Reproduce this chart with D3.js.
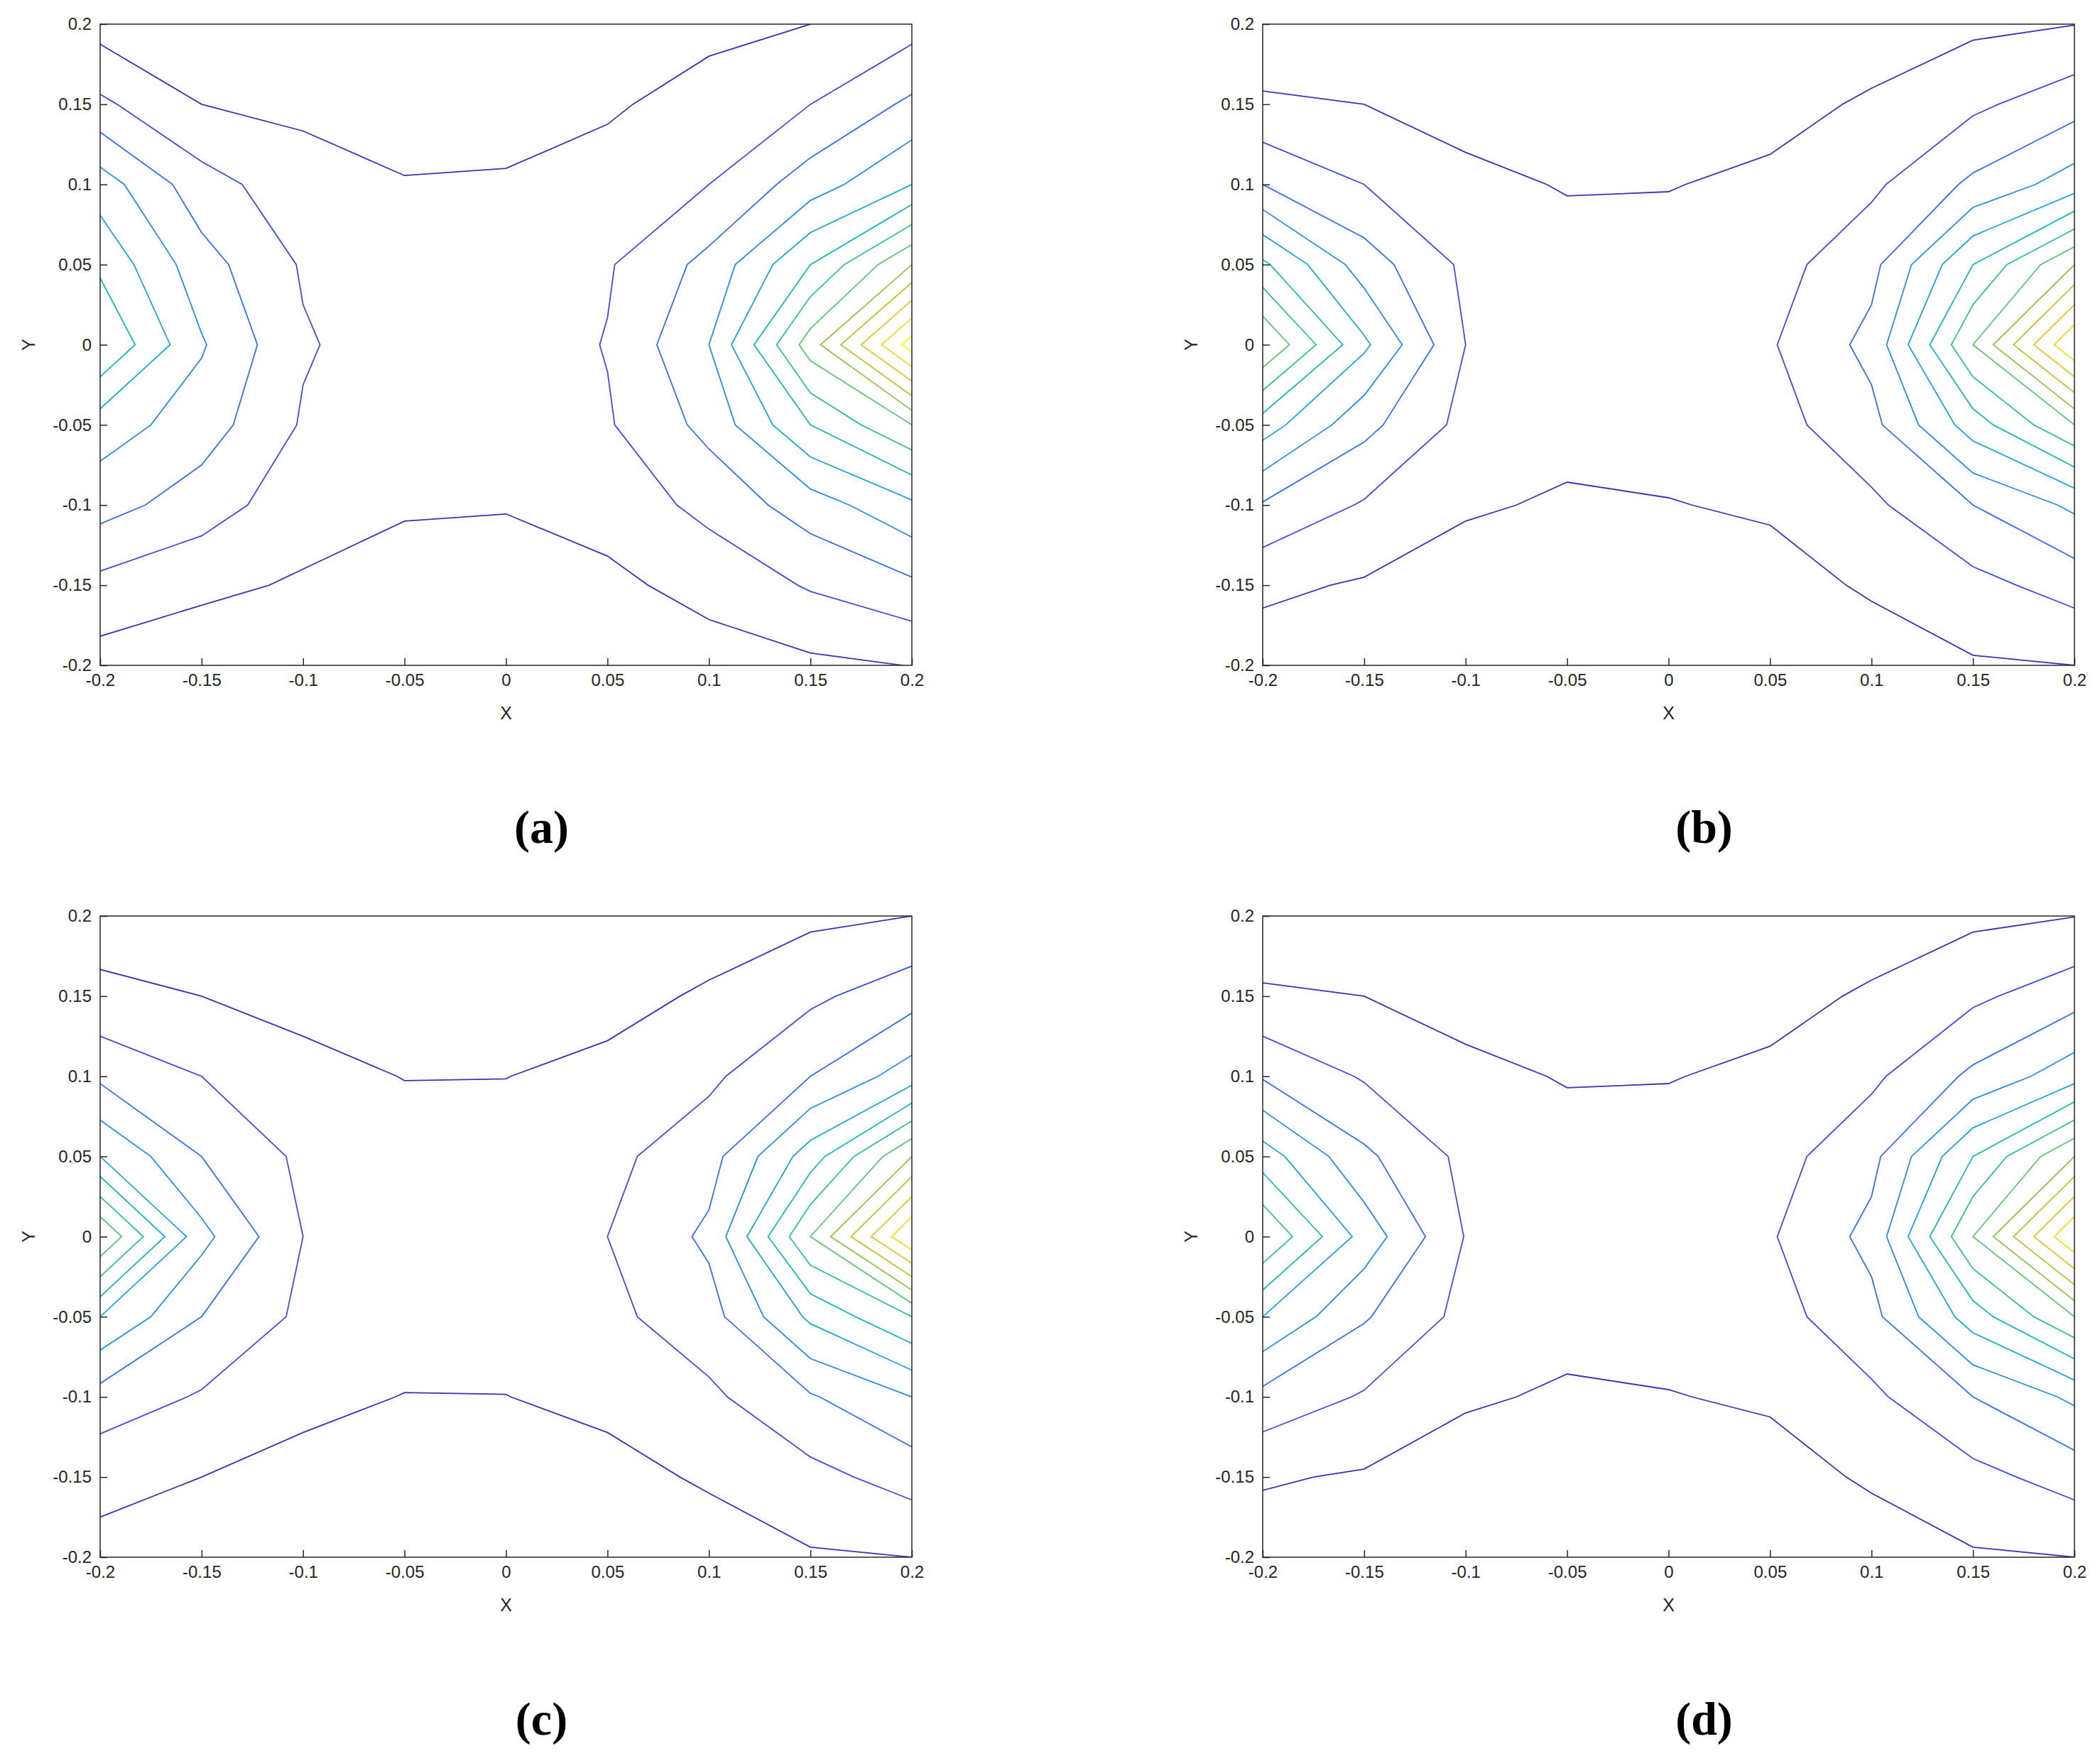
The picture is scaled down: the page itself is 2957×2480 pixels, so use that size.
<!DOCTYPE html>
<html lang="en">
<head>
<meta charset="UTF-8">
<title>Contours</title>
<style>
  body { margin: 0; background: #fff; }
  text { font-family: "Liberation Sans", Arial, sans-serif; }
</style>
</head>
<body>
<div id="chart"></div>
<script src="https://d3js.org/d3.v7.min.js"></script>
<script>
// grid coordinates (columns x, rows y from top)
const xs = [-0.2, -0.15, -0.1, -0.05, 0, 0.05, 0.1, 0.15, 0.2];
const ys = [0.2, 0.15, 0.1, 0.05, 0, -0.05, -0.1, -0.15, -0.2];
const ticks = [-0.2, -0.15, -0.1, -0.05, 0, 0.05, 0.1, 0.15, 0.2];
const levels = [1, 2, 3, 4, 5, 6, 7, 8, 9, 10, 11, 12, 13];
const panelLabels = ['(a)', '(b)', '(c)', '(d)'];

// field values, one row per y (top to bottom)
const fieldA = [
  [0.6, 0.3, 0.3, 0.3, 0.3, 0.5, 0.8, 1.0, 1.6],
  [2.2, 1.0, 0.8, 0.6, 0.6, 0.9, 1.3, 2.0, 3.2],
  [4.5, 2.4, 1.4, 1.05, 1.1, 1.3, 2.0, 3.5, 5.0],
  [5.8, 3.4, 1.9, 1.45, 1.35, 1.9, 3.3, 6.0, 9.0],
  [7.0, 4.1, 2.1, 1.5, 1.4, 2.05, 4.0, 8.5, 13.5],
  [4.5, 3.5, 1.9, 1.45, 1.35, 1.9, 3.3, 6.0, 8.0],
  [3.4, 2.5, 1.4, 1.1, 1.05, 1.35, 2.3, 3.5, 4.8],
  [1.7, 1.2, 0.9, 0.6, 0.6, 0.8, 1.3, 2.1, 2.8],
  [0.6, 0.4, 0.3, 0.3, 0.3, 0.4, 0.6, 0.8, 1.02]
];
const fieldB = [
  [0.5, 0.5, 0.4, 0.3, 0.3, 0.45, 0.6, 0.8, 0.98],
  [1.1, 1.0, 0.7, 0.6, 0.55, 0.75, 1.1, 1.8, 2.6],
  [3.0, 2.0, 1.2, 0.95, 0.97, 1.15, 1.8, 3.2, 4.5],
  [6.2, 3.5, 1.8, 1.3, 1.3, 1.6, 2.7, 6.0, 9.0],
  [9.0, 5.2, 2.0, 1.4, 1.35, 1.9, 3.3, 8.0, 13.0],
  [5.5, 3.3, 1.7, 1.25, 1.3, 1.6, 2.7, 5.5, 8.0],
  [2.9, 1.9, 1.1, 0.9, 0.97, 1.1, 1.8, 3.0, 4.2],
  [1.2, 0.9, 0.6, 0.55, 0.55, 0.7, 1.1, 1.7, 2.4],
  [0.5, 0.4, 0.3, 0.3, 0.3, 0.4, 0.6, 0.9, 1.0]
];
const fieldC = [
  [0.6, 0.5, 0.4, 0.3, 0.3, 0.4, 0.6, 0.8, 1.0],
  [1.2, 1.0, 0.75, 0.6, 0.6, 0.75, 1.1, 1.8, 2.6],
  [2.8, 2.0, 1.25, 0.98, 0.99, 1.2, 1.8, 3.0, 4.5],
  [5.0, 3.0, 1.8, 1.35, 1.3, 1.75, 2.6, 5.5, 9.0],
  [9.0, 4.3, 2.0, 1.45, 1.4, 2.0, 3.2, 8.0, 13.0],
  [5.0, 3.0, 1.8, 1.35, 1.3, 1.75, 2.6, 5.2, 7.0],
  [2.6, 1.9, 1.2, 0.98, 0.99, 1.2, 1.8, 2.9, 4.0],
  [1.3, 1.0, 0.75, 0.6, 0.6, 0.75, 1.1, 1.7, 2.4],
  [0.7, 0.5, 0.4, 0.3, 0.3, 0.4, 0.6, 0.9, 1.0]
];
const fieldD = [
  [0.5, 0.5, 0.4, 0.3, 0.3, 0.45, 0.6, 0.8, 0.98],
  [1.1, 1.0, 0.7, 0.6, 0.55, 0.75, 1.1, 1.8, 2.6],
  [2.9, 1.9, 1.2, 0.95, 0.97, 1.15, 1.8, 3.2, 4.6],
  [5.5, 3.2, 1.75, 1.3, 1.3, 1.6, 2.7, 6.0, 9.0],
  [8.0, 4.6, 1.95, 1.4, 1.35, 1.9, 3.3, 8.0, 13.0],
  [5.0, 3.1, 1.7, 1.25, 1.3, 1.6, 2.7, 5.5, 8.0],
  [2.7, 1.9, 1.1, 0.9, 0.97, 1.1, 1.8, 3.0, 4.2],
  [1.1, 0.9, 0.6, 0.55, 0.55, 0.7, 1.1, 1.7, 2.4],
  [0.5, 0.4, 0.3, 0.3, 0.3, 0.4, 0.6, 0.9, 1.0]
];
const fields = [fieldA, fieldB, fieldC, fieldD];

// parula-like colour stops
const parula = ['#3e26a8', '#4353e9', '#2d89f2', '#16aed6', '#20c0aa', '#6cca6a', '#bfc02b', '#fbbe3a', '#f9fb14'];
const colorInterp = d3.interpolateRgbBasis(parula);
const color = l => colorInterp((l - levels[0]) / (levels[levels.length - 1] - levels[0]) * 0.98 + 0.03);

const W = 2957, H = 2480;
const svg = d3.select('#chart').append('svg').attr('width', W).attr('height', H);

const plotW = 1143, plotH = 903;
const origins = [[141, 34], [1778, 34], [141, 1290], [1778, 1290]];

const nx = xs.length, ny = ys.length;
const gen = d3.contours().size([nx, ny]).thresholds(levels);

fields.forEach((field, k) => {
  const [ox, oy] = origins[k];
  const g = svg.append('g').attr('transform', `translate(${ox},${oy})`);
  const x = d3.scaleLinear().domain([-0.2, 0.2]).range([0, plotW]);
  const y = d3.scaleLinear().domain([-0.2, 0.2]).range([plotH, 0]);

  const gx = d3.scaleLinear().domain([0, nx - 1]).range([xs[0], xs[nx - 1]]);
  const gy = d3.scaleLinear().domain([0, ny - 1]).range([ys[0], ys[ny - 1]]);
  const proj = d3.geoTransform({
    point(px, py) { this.stream.point(x(gx(px - 0.5)), y(gy(py - 0.5))); }
  });
  const path = d3.geoPath(proj);

  g.append('clipPath').attr('id', 'clip' + k)
    .append('rect').attr('width', plotW).attr('height', plotH);

  g.append('g').attr('clip-path', `url(#clip${k})`)
    .selectAll('path')
    .data(gen(field.flat()))
    .join('path')
    .attr('d', path)
    .attr('fill', 'none')
    .attr('stroke', d => color(d.value))
    .attr('stroke-width', 1.8);

  g.append('rect').attr('width', plotW).attr('height', plotH)
    .attr('fill', 'none').attr('stroke', '#262626').attr('stroke-width', 1.5);

  const fmt = d => d === 0 ? '0' : String(d);
  const xa = g.append('g').attr('transform', `translate(0,${plotH})`)
    .call(d3.axisBottom(x).tickValues(ticks).tickFormat(fmt).tickSizeInner(-10).tickSizeOuter(0).tickPadding(12));
  const ya = g.append('g')
    .call(d3.axisLeft(y).tickValues(ticks).tickFormat(fmt).tickSizeInner(-10).tickSizeOuter(0).tickPadding(12));
  [xa, ya].forEach(a => {
    a.select('.domain').remove();
    a.selectAll('line').attr('stroke', '#262626').attr('stroke-width', 1.5);
    a.selectAll('text').attr('font-size', 24).attr('fill', '#262626')
      .attr('font-family', '"Liberation Sans", Arial, sans-serif');
  });

  g.append('text').attr('x', plotW / 2).attr('y', plotH + 76)
    .attr('text-anchor', 'middle').attr('font-size', 25).attr('fill', '#262626').text('X');
  g.append('text').attr('transform', `translate(-92,${plotH / 2}) rotate(-90)`)
    .attr('text-anchor', 'middle').attr('font-size', 25).attr('fill', '#262626').text('Y');

  g.append('text').attr('x', plotW / 2 + 50).attr('y', plotH + 250)
    .attr('text-anchor', 'middle').attr('font-size', 66).attr('font-weight', 'bold')
    .style('font-family', '"Liberation Serif", serif')
    .text(panelLabels[k]);
});
</script>
</body>
</html>
